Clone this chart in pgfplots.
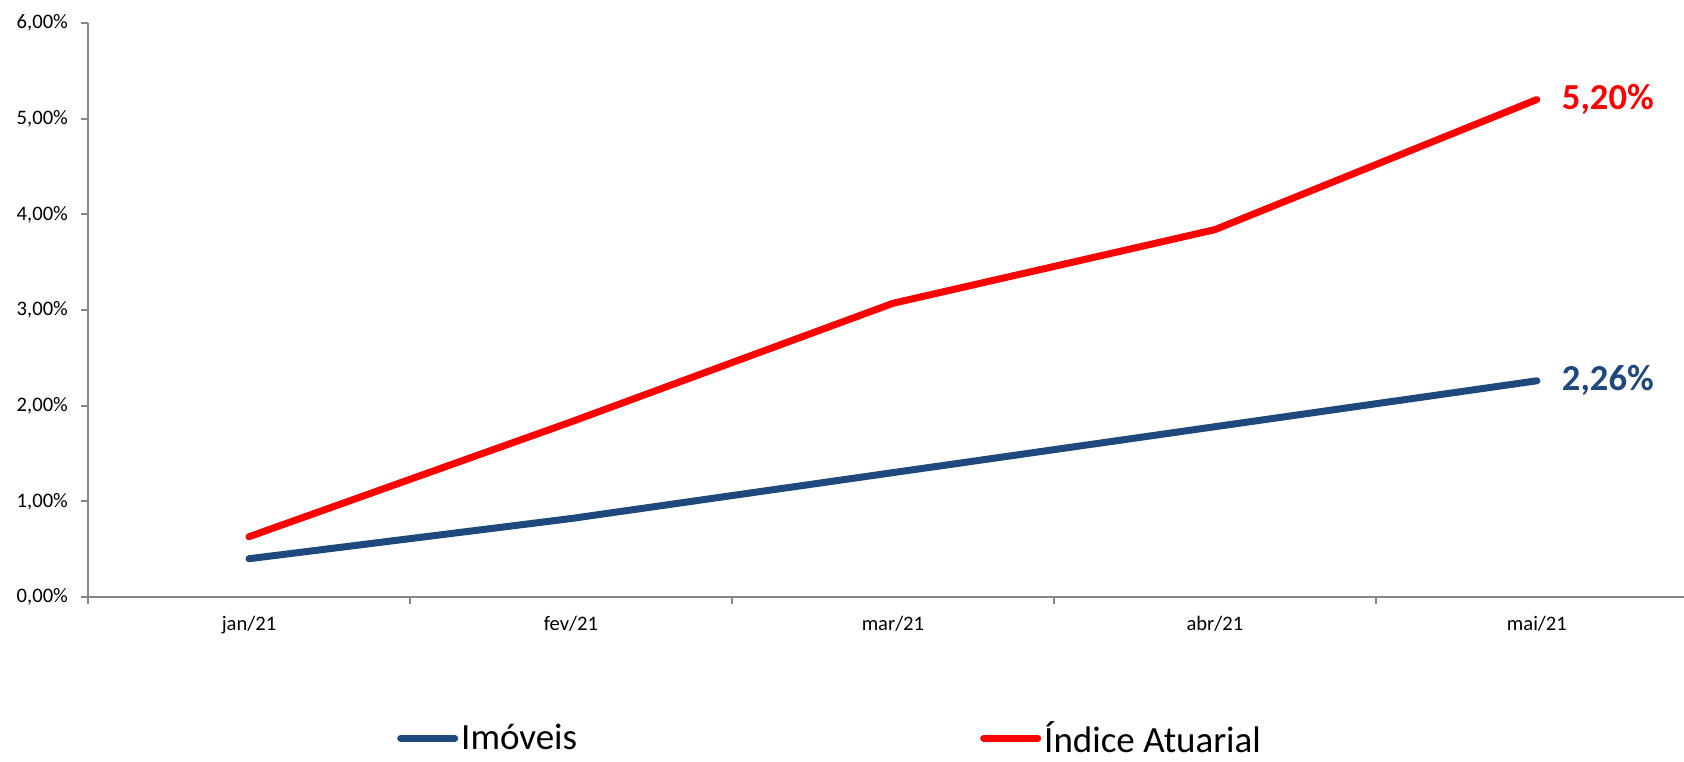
\documentclass[border=0pt]{standalone}
\usepackage{fontspec}
\setmainfont{Carlito}
\usepackage{pgfplots}
\pgfplotsset{compat=1.18}
\definecolor{imblue}{HTML}{1F497D}
\definecolor{axgray}{HTML}{868686}
\begin{document}
\begin{tikzpicture}
\begin{axis}[
  scale only axis, width=798pt, height=287pt,
  xmin=-0.5, xmax=4.457, ymin=0, ymax=6,
  axis lines=left,
  axis line style={-, draw=axgray, line width=1.1pt},
  xtick={-0.5,0.5,1.5,2.5,3.5}, xticklabels={,,,,},
  extra x ticks={0,1,2,3,4},
  extra x tick labels={jan/21,fev/21,mar/21,abr/21,mai/21},
  extra x tick style={major tick length=0pt},
  ytick={0,1,2,3,4,5,6},
  yticklabels={0{,}00\%,1{,}00\%,2{,}00\%,3{,}00\%,4{,}00\%,5{,}00\%,6{,}00\%},
  tick align=outside, major tick length=3.5pt,
  tick style={draw=axgray, line width=0.9pt},
  tick label style={font=\fontsize{10.3}{12}\selectfont, text=black},
  xticklabel style={yshift=-6pt},
  yticklabel style={xshift=-3pt},
  clip=false,
  legend style={draw=none, fill=none, at={(0.1935,-0.246)}, anchor=west,
    legend columns=2, font=\fontsize{18.5}{22}\selectfont,
    inner sep=0pt, nodes={inner sep=1.5pt},
    /tikz/every even column/.append style={column sep=200pt}},
  legend image code/.code={\draw[#1,line width=3.5pt,line cap=round] (0pt,0pt) -- (27pt,0pt);},
]
\addplot[imblue, line width=3.5pt, line cap=round, line join=round] coordinates {(0,0.40) (1,0.82) (2,1.30) (3,1.78) (4,2.26)};
\addlegendentry{Imóveis}
\addplot[red, line width=3.5pt, line cap=round, line join=round] coordinates {(0,0.63) (1,1.83) (2,3.07) (3,3.84) (4,5.20)};
\addlegendentry{Índice Atuarial}
\node[anchor=west, xshift=9pt, text=red, font=\bfseries\fontsize{18.3}{22}\selectfont] at (axis cs:4,5.20) {5,20\%};
\node[anchor=west, xshift=9pt, text=imblue, font=\bfseries\fontsize{18.3}{22}\selectfont] at (axis cs:4,2.26) {2,26\%};
\end{axis}
\pgfresetboundingbox
\useasboundingbox (-44pt,-82pt) rectangle (798pt,298.5pt);
\end{tikzpicture}
\end{document}
